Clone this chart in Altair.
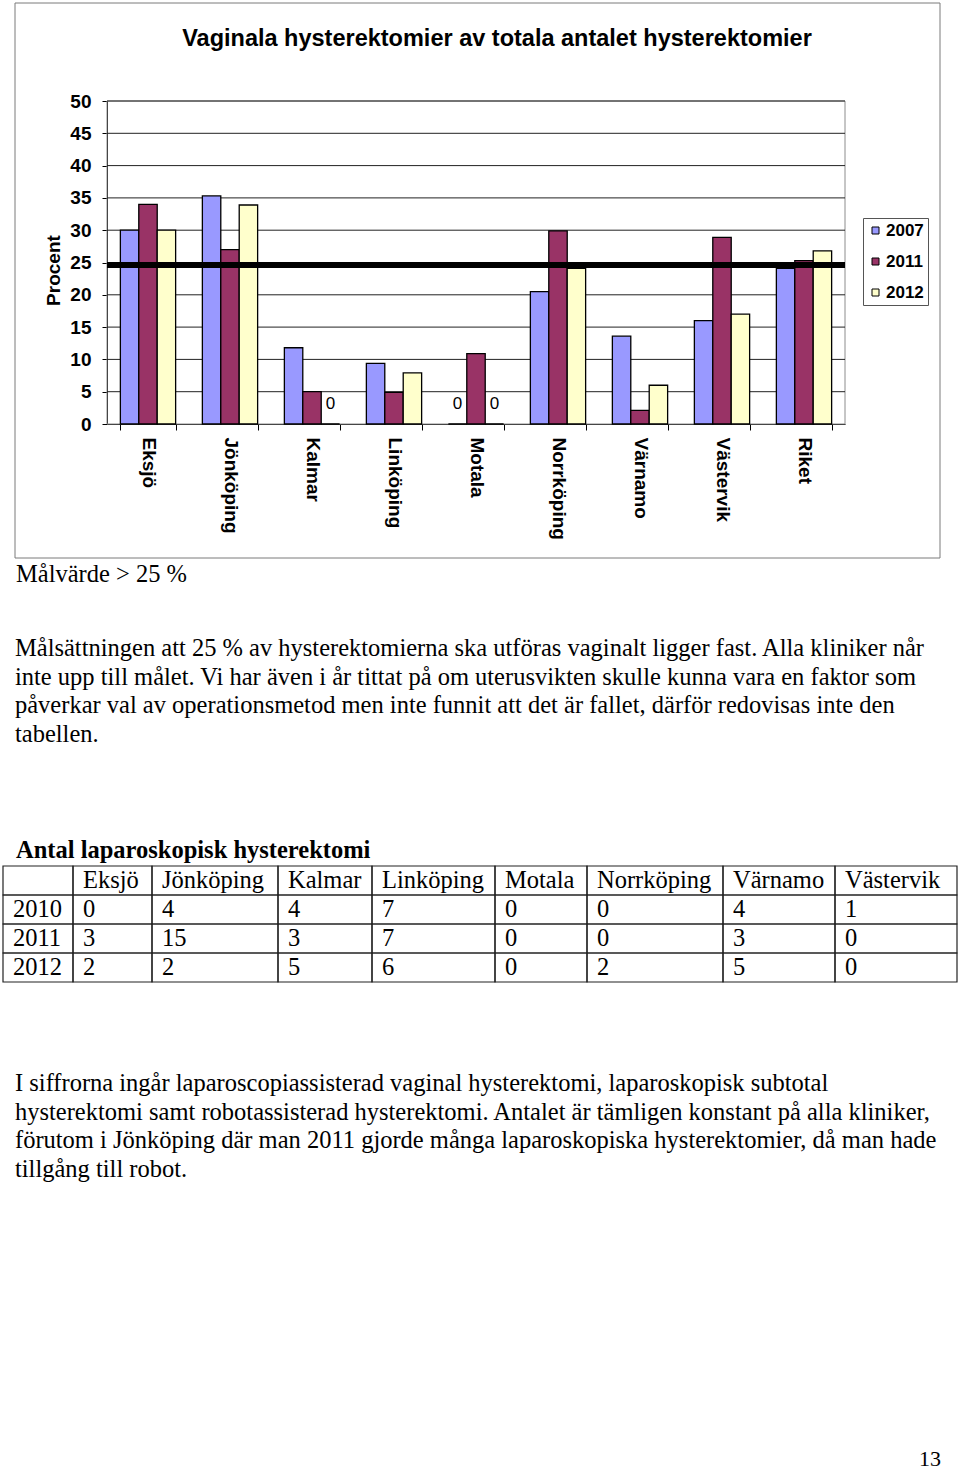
import altair as alt
import pandas as pd

W, H = 960, 1473

# ---------------- data ----------------
KLINIKER = ["Eksjö", "Jönköping", "Kalmar", "Linköping", "Motala",
            "Norrköping", "Värnamo", "Västervik", "Riket"]
AR = ["2007", "2011", "2012"]
PROC_2007 = [30.0, 35.3, 11.8, 9.4, 0.0, 20.5, 13.6, 16.0, 24.1]
PROC_2011 = [34.0, 27.0, 5.0, 4.9, 10.9, 29.9, 2.1, 28.9, 25.3]
PROC_2012 = [30.0, 33.9, 0.0, 7.9, 0.0, 24.1, 6.0, 17.0, 26.8]
MALVARDE = [24.6]
Y_TICKS = [0, 5, 10, 15, 20, 25, 30, 35, 40, 45, 50]

CHART_TITLE = "Vaginala hysterektomier av totala antalet hysterektomier"
Y_TITLE = "Procent"
MALVARDE_TEXT = "Målvärde > 25 %"
PARA1 = [
    "Målsättningen att 25 % av hysterektomierna ska utföras vaginalt ligger fast. Alla kliniker når",
    "inte upp till målet. Vi har även i år tittat på om uterusvikten skulle kunna vara en faktor som",
    "påverkar val av operationsmetod men inte funnit att det är fallet, därför redovisas inte den",
    "tabellen.",
]
TABLE_TITLE = "Antal laparoskopisk hysterektomi"
TAB_KLINIKER = ["Eksjö", "Jönköping", "Kalmar", "Linköping", "Motala",
                "Norrköping", "Värnamo", "Västervik"]
TAB_AR = ["2010", "2011", "2012"]
TAB_2010 = [0, 4, 4, 7, 0, 0, 4, 1]
TAB_2011 = [3, 15, 3, 7, 0, 0, 3, 0]
TAB_2012 = [2, 2, 5, 6, 0, 2, 5, 0]
PARA2 = [
    "I siffrorna ingår laparoscopiassisterad vaginal hysterektomi, laparoskopisk subtotal",
    "hysterektomi samt robotassisterad hysterektomi. Antalet är tämligen konstant på alla kliniker,",
    "förutom i Jönköping där man 2011 gjorde många laparoskopiska hysterektomier, då man hade",
    "tillgång till robot.",
]
PAGE_NO = "13"

# ---------------- layout / style ----------------
PLOT_L, PLOT_R, PLOT_T, PLOT_B = 107, 845, 101, 424
FRAME_L, FRAME_R, FRAME_T, FRAME_B = 15, 940, 3, 558
COL_EDGES = [3, 73, 152, 278, 372, 495, 587, 723, 835, 957]
ROW_EDGES = [866, 895, 924, 953, 982]
COLORS = ["#9999FF", "#993366", "#FFFFCC"]
SANS = "Liberation Sans"
SERIF = "Liberation Serif"
BODY_SIZE = 24.5
LINE_H = 28.5

# ---------------- frames ----------------
one = alt.Data(values=[{"k": 1}])

bars_df = pd.DataFrame({
    "Klinik": KLINIKER * 3,
    "År": [AR[0]] * 9 + [AR[1]] * 9 + [AR[2]] * 9,
    "Procent": PROC_2007 + PROC_2011 + PROC_2012,
})
grid_df = pd.DataFrame({"v": Y_TICKS[1:]})
target_df = pd.DataFrame({"v": MALVARDE})

x_scale = alt.Scale(domain=KLINIKER, range=[PLOT_L, PLOT_R],
                    paddingInner=0.326, paddingOuter=0.163)
y_scale = alt.Scale(domain=[0, 50], range=[PLOT_B, PLOT_T], nice=False, zero=False)
off_scale = alt.Scale(domain=AR, paddingInner=0, paddingOuter=0)

frame = alt.Chart(one).mark_rect(fillOpacity=0, stroke="#7a7a7a", strokeWidth=1).encode(
    x=alt.value(FRAME_L), x2=alt.value(FRAME_R), y=alt.value(FRAME_T), y2=alt.value(FRAME_B))

plot_border = alt.Chart(one).mark_rect(fillOpacity=0, stroke="#8c8c8c", strokeWidth=1).encode(
    x=alt.value(PLOT_L), x2=alt.value(PLOT_R), y=alt.value(PLOT_T), y2=alt.value(PLOT_B))

grid = alt.Chart(grid_df).mark_rule(color="#222222", strokeWidth=1).encode(
    y=alt.Y("v:Q", scale=y_scale, axis=None),
    x=alt.value(PLOT_L), x2=alt.value(PLOT_R))

bars = alt.Chart(bars_df).mark_bar(stroke="black", strokeWidth=1.3).encode(
    x=alt.X("Klinik:N", sort=KLINIKER, scale=x_scale,
            axis=alt.Axis(title=None, orient="bottom", offset=PLOT_B - H,
                          labelAngle=90, labelAlign="left", labelBaseline="middle",
                          labelFont=SANS, labelFontWeight="bold", labelFontSize=19,
                          labelColor="black", labelPadding=7, tickBand="extent",
                          tickSize=6, tickColor="black", domainColor="black",
                          grid=False)),
    xOffset=alt.XOffset("År:N", sort=AR, scale=off_scale),
    y=alt.Y("Procent:Q", scale=y_scale,
            axis=alt.Axis(values=Y_TICKS, offset=-PLOT_L, tickSize=5, labelPadding=11,
                          labelFont=SANS, labelFontWeight="bold", labelFontSize=19,
                          labelColor="black", tickColor="black", domainColor="black",
                          grid=False, title=Y_TITLE, titleFont=SANS, titleFontSize=19,
                          titleFontWeight="bold", titleColor="black", titleAngle=270,
                          titleX=53 - PLOT_L, titleY=270, titleAlign="center",
                          titleBaseline="middle")),
    color=alt.Color("År:N", scale=alt.Scale(domain=AR, range=COLORS),
                    legend=alt.Legend(title=None, orient="none", legendX=863, legendY=218,
                                      direction="vertical", strokeColor="#555555",
                                      padding=4, symbolType="square", symbolSize=49,
                                      symbolStrokeColor="black", symbolStrokeWidth=1,
                                      labelFont=SANS, labelFontSize=17,
                                      labelFontWeight="bold", labelColor="black",
                                      labelOffset=2, rowPadding=13)),
)

zero_lbls = alt.Chart(bars_df).transform_calculate(
    lbl="datum.Procent == 0 ? '0' : ''"
).mark_text(baseline="bottom", dy=-11, font=SANS, fontSize=17, color="black").encode(
    x=alt.X("Klinik:N", sort=KLINIKER, scale=x_scale, axis=None),
    xOffset=alt.XOffset("År:N", sort=AR, scale=off_scale),
    y=alt.Y("Procent:Q", scale=y_scale, axis=None),
    text="lbl:N",
)

target = alt.Chart(target_df).mark_rule(color="black", strokeWidth=6).encode(
    y=alt.Y("v:Q", scale=y_scale, axis=None),
    x=alt.value(PLOT_L), x2=alt.value(PLOT_R))

title = alt.Chart(one).mark_text(align="center", baseline="alphabetic", font=SANS,
                                 fontSize=23.5, fontWeight="bold", color="black").encode(
    x=alt.value(497), y=alt.value(46), text=alt.value(CHART_TITLE))

malv = alt.Chart(one).mark_text(align="left", baseline="alphabetic", font=SERIF,
                                fontSize=BODY_SIZE, color="black").encode(
    x=alt.value(16), y=alt.value(582), text=alt.value(MALVARDE_TEXT))

para1 = alt.Chart(one).mark_text(align="left", baseline="alphabetic", font=SERIF,
                                 fontSize=BODY_SIZE, lineHeight=LINE_H, color="black").encode(
    x=alt.value(15), y=alt.value(656), text=alt.value(PARA1))

tab_title = alt.Chart(one).mark_text(align="left", baseline="alphabetic", font=SERIF,
                                     fontSize=BODY_SIZE, fontWeight="bold", color="black").encode(
    x=alt.value(16), y=alt.value(858), text=alt.value(TABLE_TITLE))

# table cells
cells = []
rows_vals = [TAB_2010, TAB_2011, TAB_2012]
header = [""] + TAB_KLINIKER
for c, h in enumerate(header):
    cells.append({"r": 0, "c": c, "txt": h})
for r, (yr, vals) in enumerate(zip(TAB_AR, rows_vals), start=1):
    cells.append({"r": r, "c": 0, "txt": yr})
    for c, v in enumerate(vals, start=1):
        cells.append({"r": r, "c": c, "txt": str(v)})
cells_df = pd.DataFrame(cells)
cells_df["x0"] = cells_df["c"].map(lambda c: COL_EDGES[c])
cells_df["x1"] = cells_df["c"].map(lambda c: COL_EDGES[c + 1])
cells_df["y0"] = cells_df["r"].map(lambda r: ROW_EDGES[r])
cells_df["y1"] = cells_df["r"].map(lambda r: ROW_EDGES[r + 1])
cells_df["tx"] = cells_df["x0"] + 10
cells_df["ty"] = cells_df["y1"] - 7

table_grid = alt.Chart(cells_df).mark_rect(fillOpacity=0, stroke="#222222", strokeWidth=1.2).encode(
    x=alt.X("x0:Q", scale=None), x2="x1:Q",
    y=alt.Y("y0:Q", scale=None), y2="y1:Q")

table_text = alt.Chart(cells_df).mark_text(align="left", baseline="alphabetic", font=SERIF,
                                          fontSize=BODY_SIZE, color="black").encode(
    x=alt.X("tx:Q", scale=None), y=alt.Y("ty:Q", scale=None), text="txt:N")

para2 = alt.Chart(one).mark_text(align="left", baseline="alphabetic", font=SERIF,
                                 fontSize=BODY_SIZE, lineHeight=LINE_H, color="black").encode(
    x=alt.value(15), y=alt.value(1091), text=alt.value(PARA2))

page = alt.Chart(one).mark_text(align="right", baseline="alphabetic", font=SERIF,
                                fontSize=22, color="black").encode(
    x=alt.value(941), y=alt.value(1466), text=alt.value(PAGE_NO))

chart = alt.layer(
    frame, plot_border, grid, bars, zero_lbls, target, title,
    malv, para1, tab_title, table_grid, table_text, para2, page,
).resolve_scale(x="independent", y="independent").properties(
    width=W, height=H, padding=0,
    autosize=alt.AutoSizeParams(type="none"),
).configure_view(stroke=None)

chart.save("out.html", embed_options={"renderer": "svg", "actions": False})
